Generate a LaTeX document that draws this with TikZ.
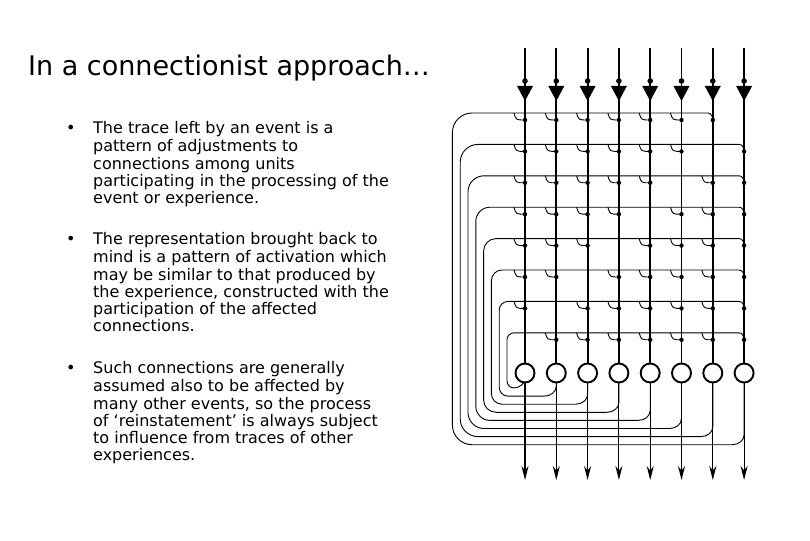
\documentclass[tikz,border=0pt]{standalone}
\usepackage{fontspec}
\setmainfont{DejaVu Sans}
\usetikzlibrary{arrows.meta}
\begin{document}
\begin{tikzpicture}[x=1pt,y=-1pt,
  colline/.style={line width=1.9pt},
  rowline/.style={line width=0.9pt},
  unit/.style={circle,draw,line width=1.9pt,fill=white,minimum size=19pt,inner sep=0pt},
  tri/.style={fill=black},
  body/.style={anchor=north west,align=left,font=\fontsize{16}{17.3}\selectfont,inner sep=0pt},
  bul/.style={anchor=north west,font=\fontsize{16}{17.3}\selectfont,inner sep=0pt}]
\useasboundingbox (0,0) rectangle (810,540);
\node[anchor=west,inner sep=0pt,font=\fontsize{27}{32}\selectfont] (title) at (28,68) {In a connectionist approach…};
\node[bul] (b1) at (66,121) {\strut•};
\node[body] (t1) at (93,121) {\strut The trace left by an event is a\\pattern of adjustments to\\connections among units\\participating in the processing of the\\event or experience.};
\node[bul] (b2) at (66,232) {\strut•};
\node[body] (t2) at (93,232) {\strut The representation brought back to\\mind is a pattern of activation which\\may be similar to that produced by\\the experience, constructed with the\\participation of the affected\\connections.};
\node[bul] (b3) at (66,361) {\strut•};
\node[body] (t3) at (93,361) {\strut Such connections are generally\\assumed also to be affected by\\many other events, so the process\\of ‘reinstatement’ is always subject\\to influence from traces of other\\experiences.};
% loops and rows
\foreach \k in {0,...,7}{
  \pgfmathsetmacro\xk{525+31.3*\k}
  \pgfmathsetmacro\yr{113+31.4*(7-\k)}
  \pgfmathsetmacro\L{507-7.8*\k}
  \pgfmathsetmacro\B{388+8.1*\k}
  \pgfmathsetmacro\R{7+1.8*\k}
  \pgfmathsetmacro\xe{ifthenelse(\k==7,525+31.3*6-5,525+31.3*7-5)}
  \draw[rowline] (\xk,382) -- (\xk,\B-10) to[out=270,in=0] (\xk-12,\B) -- (\L+\R,\B)
     arc[start angle=90,end angle=180,radius=\R] -- (\L,\yr+\R)
     arc[start angle=180,end angle=270,radius=\R] -- (\xe,\yr)
     to[out=0,in=90] (\xe+5,\yr+7);
  \fill (\xe+5,\yr+7) circle (2.2);
  \foreach \c in {0,...,6}{
    \ifnum\c=\k\else
      \pgfmathsetmacro\xc{525+31.3*\c}
      \ifnum\k=7 \ifnum\c=6 \else
        \draw[rowline] (\xc-11,\yr) .. controls (\xc-9,\yr+7) .. (\xc,\yr+7);
        \fill (\xc,\yr+7) circle (2.2);
      \fi\else
      \draw[rowline] (\xc-11,\yr) .. controls (\xc-9,\yr+7) .. (\xc,\yr+7);
      \fill (\xc,\yr+7) circle (2.2);
      \fi
    \fi
  }
}
% columns
\foreach \k in {0,...,7}{
  \pgfmathsetmacro\xk{525+31.3*\k}
  \node[unit] (u\k) at (\xk,373) {};
  \coordinate (in\k) at (\xk,48);
  \coordinate (out\k) at (\xk,480);
  \draw[colline] (in\k) -- (u\k.north);
  \fill (\xk,81) circle (2.8);
  \fill[tri] (\xk-8,86) -- (\xk+8,86) -- (\xk,101) -- cycle;
  \draw[line width=1.1pt,-{Stealth[length=14pt,width=7pt]}] (u\k.south) -- (out\k);
}
\end{tikzpicture}
\end{document}
